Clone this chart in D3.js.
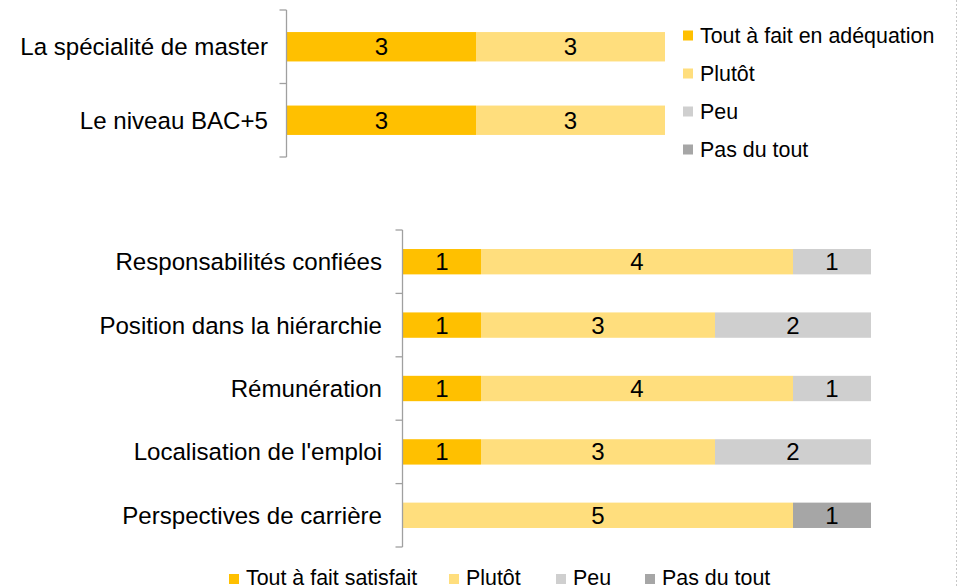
<!DOCTYPE html>
<html>
<head>
<meta charset="utf-8">
<script src="https://cdn.jsdelivr.net/npm/d3@7"></script>
<style>
  html, body { margin: 0; padding: 0; background: #fff; }
  svg { display: block; font-family: "Liberation Sans", Arial, sans-serif; }
</style>
</head>
<body>
<svg id="chart" width="957" height="588"></svg>
<script>
// ---- Data ----
const topCategories = ["La spécialité de master", "Le niveau BAC+5"];
const topSeriesNames = ["Tout à fait en adéquation", "Plutôt", "Peu", "Pas du tout"];
const topToutAFait = [3, 3];
const topPlutot = [3, 3];
const topPeu = [0, 0];
const topPasDuTout = [0, 0];

const bottomCategories = ["Responsabilités confiées", "Position dans la hiérarchie", "Rémunération", "Localisation de l'emploi", "Perspectives de carrière"];
const bottomSeriesNames = ["Tout à fait satisfait", "Plutôt", "Peu", "Pas du tout"];
const bottomToutAFait = [1, 1, 1, 1, 0];
const bottomPlutot = [4, 3, 4, 3, 5];
const bottomPeu = [1, 2, 1, 2, 0];
const bottomPasDuTout = [0, 0, 0, 0, 1];

const seriesColors = ["#FFC000", "#FFDE7D", "#CFCFCF", "#A6A6A6"];

// ---- Drawing ----
const svg = d3.select("#chart");
const keys = ["s0", "s1", "s2", "s3"];
const color = d3.scaleOrdinal().domain(keys).range(seriesColors);

function buildRows(cats, arrs) {
  return cats.map((c, i) => ({ cat: c, s0: arrs[0][i], s1: arrs[1][i], s2: arrs[2][i], s3: arrs[3][i] }));
}

function drawPanel(cats, arrs, opt) {
  const rows = buildRows(cats, arrs);
  const stacked = d3.stack().keys(keys)(rows);
  const y = d3.scaleBand().domain(cats).range(opt.yRange).paddingInner(0.6).paddingOuter(0.3);
  const x = d3.scaleLinear().domain([0, 6]).range(opt.xRange);
  const g = svg.append("g");

  // bars
  const layer = g.selectAll("g.layer").data(stacked).join("g")
    .attr("fill", d => color(d.key));
  layer.selectAll("rect").data(d => d.map(v => ({ v, key: d.key }))).join("rect")
    .attr("x", d => x(d.v[0]))
    .attr("y", d => y(d.v.data.cat))
    .attr("width", d => x(d.v[1]) - x(d.v[0]))
    .attr("height", y.bandwidth());

  // value labels
  layer.selectAll("text").data(d => d.filter(v => v[1] - v[0] > 0)).join("text")
    .attr("x", d => (x(d[0]) + x(d[1])) / 2)
    .attr("y", d => y(d.data.cat) + y.bandwidth() / 2 + 8.5)
    .attr("text-anchor", "middle")
    .attr("font-size", 24)
    .attr("fill", "#000")
    .text(d => d[1] - d[0]);

  // axis line with ticks at band boundaries
  const x0 = opt.xRange[0] - 0.5;
  const axis = g.append("g").attr("stroke", "#A0A0A0").attr("stroke-width", 1.3).attr("fill", "none");
  axis.append("line").attr("x1", x0).attr("x2", x0).attr("y1", opt.yRange[0]).attr("y2", opt.yRange[1]);
  d3.range(cats.length + 1).forEach(i => {
    const ty = opt.yRange[0] + i * y.step();
    axis.append("line").attr("x1", x0 - 7).attr("x2", x0).attr("y1", ty).attr("y2", ty);
  });

  // category labels
  g.selectAll("text.cat").data(cats).join("text")
    .attr("class", "cat")
    .attr("x", opt.labelX)
    .attr("y", d => y(d) + y.bandwidth() / 2 + 8.5)
    .attr("text-anchor", "end")
    .attr("font-size", 24.1)
    .attr("fill", "#000")
    .text(d => d);
}

drawPanel(topCategories, [topToutAFait, topPlutot, topPeu, topPasDuTout],
  { yRange: [10, 157], xRange: [287, 665], labelX: 268 });
drawPanel(bottomCategories, [bottomToutAFait, bottomPlutot, bottomPeu, bottomPasDuTout],
  { yRange: [230, 547], xRange: [403, 871], labelX: 382 });

// top legend (vertical)
const legTop = svg.append("g");
topSeriesNames.forEach((name, i) => {
  const cy = 35.5 + i * 38;
  legTop.append("rect").attr("x", 683).attr("y", cy - 5).attr("width", 10).attr("height", 10).attr("fill", seriesColors[i]);
  legTop.append("text").attr("x", 700).attr("y", cy + 7.4).attr("font-size", 21.4).attr("fill", "#000").text(name);
});

// bottom legend (horizontal)
const legBot = svg.append("g");
const legBotX = [229, 449, 556, 645];
bottomSeriesNames.forEach((name, i) => {
  const cx = legBotX[i];
  legBot.append("rect").attr("x", cx).attr("y", 574).attr("width", 10).attr("height", 10).attr("fill", seriesColors[i]);
  legBot.append("text").attr("x", cx + 17).attr("y", 585).attr("font-size", 21.4).attr("fill", "#000").text(name);
});

// dotted right border
svg.append("line").attr("x1", 956.5).attr("x2", 956.5).attr("y1", 0).attr("y2", 588)
  .attr("stroke", "#C8C8C8").attr("stroke-width", 1).attr("stroke-dasharray", "2,2");
</script>
</body>
</html>
